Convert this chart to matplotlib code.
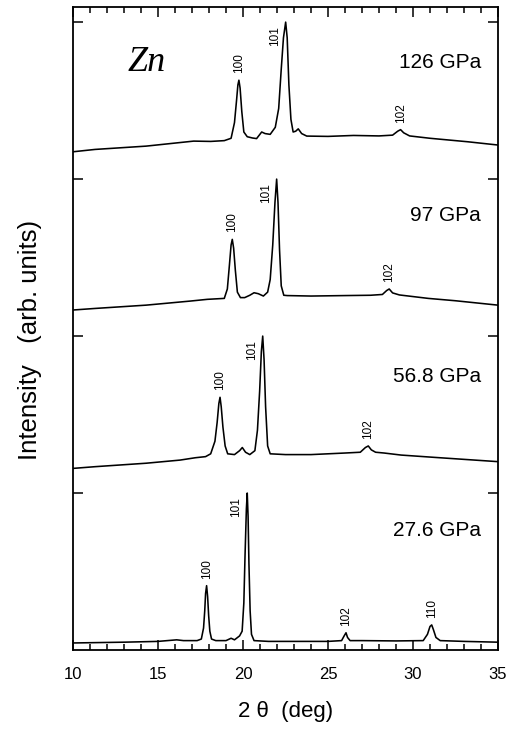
import numpy as np
import matplotlib
matplotlib.use('Agg')
from matplotlib import pyplot as plt
from matplotlib.ticker import MultipleLocator

plt.rcParams['font.family'] = ['Liberation Sans', 'DejaVu Sans']

# traced diffraction patterns, intensity already offset (101 peak of each = tick level)
tt_126 = [10, 11.3, 14.3, 17.1, 18.1, 18.9, 19.3, 19.5, 19.62, 19.7, 19.76, 19.83, 19.93, 20.05,
          20.25, 20.55, 20.8, 21.1, 21.3, 21.6, 21.9, 22.1, 22.25, 22.38, 22.51, 22.6, 22.7, 22.82,
          22.95, 23.1, 23.25, 23.45, 23.75, 25, 26.5, 28, 28.8, 29.1, 29.27, 29.45, 29.8, 31, 33.2, 35]
i_126 = [3.174, 3.189, 3.21, 3.242, 3.24, 3.245, 3.26, 3.36, 3.5, 3.6, 3.63, 3.58, 3.43, 3.3,
         3.27, 3.262, 3.258, 3.30, 3.29, 3.285, 3.33, 3.45, 3.7, 3.9, 4.0, 3.9, 3.6, 3.38,
         3.3, 3.305, 3.32, 3.29, 3.274, 3.272, 3.278, 3.275, 3.28, 3.305, 3.315, 3.295, 3.275, 3.26, 3.238, 3.217]

tt_97 = [10, 11.3, 14.3, 16.9, 17.9, 18.9, 19.08, 19.2, 19.3, 19.37, 19.45, 19.55, 19.67, 19.85,
         20.1, 20.4, 20.65, 20.9, 21.2, 21.45, 21.6, 21.75, 21.88, 21.98, 22.06, 22.15, 22.25, 22.4,
         22.6, 24, 26, 27.5, 28.2, 28.45, 28.6, 28.8, 29.2, 30.9, 32.5, 35]
i_97 = [2.166, 2.176, 2.197, 2.223, 2.234, 2.24, 2.3, 2.45, 2.58, 2.616, 2.56, 2.42, 2.28, 2.245,
        2.245, 2.26, 2.276, 2.27, 2.255, 2.28, 2.36, 2.58, 2.85, 3.0, 2.85, 2.55, 2.32, 2.26,
        2.258, 2.255, 2.258, 2.26, 2.265, 2.29, 2.30, 2.275, 2.262, 2.24, 2.225, 2.197]

tt_568 = [10, 11.3, 14.3, 16.3, 17.2, 17.8, 18.1, 18.35, 18.48, 18.58, 18.65, 18.72, 18.82, 18.95,
          19.1, 19.5, 19.8, 19.96, 20.15, 20.4, 20.7, 20.85, 20.98, 21.08, 21.16, 21.24, 21.33, 21.45,
          21.6, 22.5, 24, 26, 26.9, 27.2, 27.37, 27.55, 27.8, 28.3, 29.3, 31.3, 35]
i_568 = [1.157, 1.168, 1.19, 1.21, 1.225, 1.232, 1.25, 1.33, 1.45, 1.57, 1.61, 1.55, 1.42, 1.3,
         1.25, 1.245, 1.27, 1.29, 1.26, 1.245, 1.27, 1.4, 1.65, 1.9, 2.0, 1.85, 1.55, 1.3,
         1.25, 1.245, 1.245, 1.255, 1.26, 1.29, 1.30, 1.275, 1.26, 1.255, 1.242, 1.227, 1.20]

tt_276 = [10, 13, 15, 16.1, 16.5, 17.3, 17.55, 17.68, 17.75, 17.8, 17.86, 17.92, 17.98, 18.05,
          18.15, 18.4, 19.0, 19.3, 19.5, 19.8, 19.95, 20.05, 20.12, 20.2, 20.25, 20.3, 20.35, 20.42,
          20.5, 20.65, 21.5, 23, 25, 25.8, 25.95, 26.06, 26.15, 26.3, 27, 29, 30.6, 30.85, 31.0,
          31.1, 31.2, 31.35, 31.6, 33, 35]
i_276 = [0.045, 0.05, 0.055, 0.065, 0.06, 0.06, 0.07, 0.14, 0.25, 0.36, 0.41, 0.34, 0.22, 0.12,
         0.07, 0.06, 0.06, 0.075, 0.065, 0.09, 0.12, 0.3, 0.6, 0.9, 1.0, 0.85, 0.55, 0.25,
         0.1, 0.06, 0.055, 0.055, 0.055, 0.06, 0.09, 0.11, 0.08, 0.06, 0.06, 0.058, 0.06, 0.1, 0.15,
         0.16, 0.13, 0.08, 0.06, 0.055, 0.05]

pressures = ['126 GPa', '97 GPa', '56.8 GPa', '27.6 GPa']
patterns = [(tt_126, i_126), (tt_97, i_97), (tt_568, i_568), (tt_276, i_276)]

# indexed reflections (hkl, 2theta)
peaks_126 = [('100', 19.76), ('101', 22.51), ('102', 29.27)]
peaks_97 = [('100', 19.37), ('101', 21.98), ('102', 28.6)]
peaks_568 = [('100', 18.65), ('101', 21.16), ('102', 27.37)]
peaks_276 = [('100', 17.86), ('101', 20.25), ('102', 26.06), ('110', 31.1)]
peak_sets = [peaks_126, peaks_97, peaks_568, peaks_276]

label_y = [3.74, 2.77, 1.74, 0.76]

fig = plt.figure(figsize=(5.15, 7.34), dpi=100)
ax = fig.add_axes([0.1417, 0.1144, 0.8253, 0.876])

for (tt, inten), peaks, name, ly in zip(patterns, peak_sets, pressures, label_y):
    ax.plot(tt, inten, color='black', lw=1.15)
    for hkl, pos in peaks:
        top = np.interp(pos, tt, inten)
        # 101 is the tallest line, so its label sits beside it
        off = (-11, -24) if hkl == '101' else (0, 7)
        ax.annotate(hkl, xy=(pos, top), xytext=off, textcoords='offset pixels',
                    rotation=90, ha='center', va='bottom', fontsize=8.5)
    ax.text(34.0, ly, name, ha='right', va='center', fontsize=15)

ax.text(13.2, 3.745, 'Zn', family=['Liberation Serif', 'DejaVu Serif'], style='italic',
        fontsize=26, ha='left', va='center')

ax.set_xlim(10, 35)
ax.set_ylim(0, 4.096)
ax.xaxis.set_major_locator(MultipleLocator(5))
ax.xaxis.set_minor_locator(MultipleLocator(1))
ax.set_yticks([1, 2, 3, 4])
ax.set_yticklabels([])
ax.tick_params(which='both', direction='in', top=True, right=True, width=1.1)
ax.tick_params(which='major', length=7, labelsize=12, pad=12)
ax.tick_params(which='minor', length=4)
for s in ax.spines.values():
    s.set_linewidth(1.3)

ax.set_xlabel('2 θ  (deg)', fontsize=16, labelpad=14)
ax.set_ylabel('Intensity   (arb. units)', fontsize=18.5)
ax.yaxis.set_label_coords(-0.072, 0.482)

fig.savefig('out.png', dpi=100)
